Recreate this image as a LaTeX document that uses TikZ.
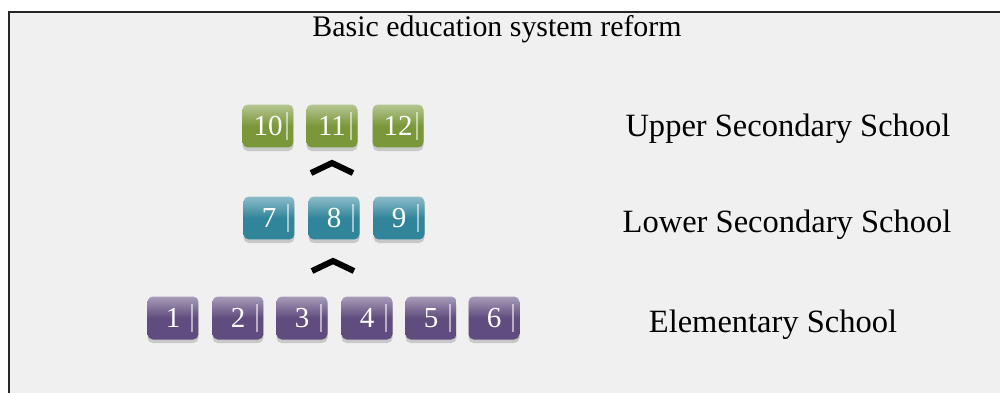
\documentclass[tikz,border=0pt]{standalone}
\usepackage{fontspec}
\setmainfont{Liberation Serif}
\usetikzlibrary{shadows}

\definecolor{bggrey}{HTML}{F0F0F0}
\definecolor{tgreen}{RGB}{122,152,58}
\definecolor{tteal}{RGB}{49,133,155}
\definecolor{tpurple}{RGB}{96,76,126}

\tikzset{
  tile/.style={rounded corners=3pt, minimum width=1.02cm, minimum height=0.86cm,
    inner sep=0pt, text=white, font=\fontsize{16.5}{16.5}\selectfont,
    top color=#1!55!white, bottom color=#1, middle color=#1,
    drop shadow={shadow xshift=0pt, shadow yshift=-2pt, opacity=0.35},
    path picture={\fill[white,opacity=0.55,sharp corners]
      ([xshift=-4pt,yshift=-4pt]path picture bounding box.north east) rectangle
      ([xshift=-3pt,yshift=4pt]path picture bounding box.south east);}},
  level/.style={anchor=base, font=\fontsize{18.5}{20}\selectfont},
  caret/.style={line width=0.12cm, line join=miter}
}

\begin{document}
\begin{tikzpicture}[x=0.02cm, y=-0.02cm]
  \clip (0,0) rectangle (1000,392);
  % Frame
  \draw[line width=0.04cm, draw=black!85, fill=bggrey] (9,12) rectangle (1010,400);
  \node[anchor=base, font=\fontsize{17}{18}\selectfont] (title) at (497,36) {Basic education system reform};

  % Grades
  \foreach \n/\x in {10/268, 11/332, 12/398}
    \node[tile=tgreen] (g\n) at (\x,126) {\n};
  \foreach \n/\x in {7/269, 8/334, 9/399}
    \node[tile=tteal] (t\n) at (\x,218) {\n};
  \foreach \n/\x in {1/173, 2/238, 3/302, 4/367, 5/431, 6/494}
    \node[tile=tpurple] (p\n) at (\x,318) {\n};

  % Steps up
  \coordinate (up1) at (332,168);
  \coordinate (up2) at (333,266);
  \draw[caret] (up1) ++(-21,5) -- ++(21,-10) -- ++(21,10);
  \draw[caret] (up2) ++(-21,5) -- ++(21,-10) -- ++(21,10);

  % Levels
  \node[level] (upper) at (788,136) {Upper Secondary School};
  \node[level] (lower) at (787,232) {Lower Secondary School};
  \node[level] (elem) at (773,332) {Elementary School};
\end{tikzpicture}
\end{document}
